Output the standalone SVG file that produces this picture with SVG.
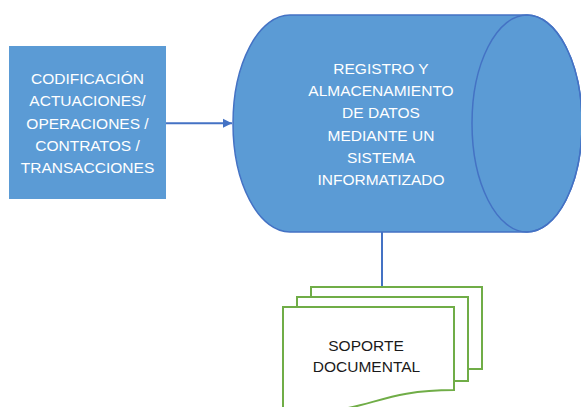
<svg xmlns="http://www.w3.org/2000/svg" width="581" height="407" viewBox="0 0 581 407">
  <defs>
    <style>
      .lbl { font-family: "Liberation Sans", Arial, sans-serif; font-size: 15.5px; text-anchor: middle; }
      .w { fill: #ffffff; }
      .k { fill: #1a1a1a; }
      .conn { stroke: #4472C4; stroke-width: 2; fill: none; }
      .doc { fill: #ffffff; stroke: #70AD47; stroke-width: 2; }
    </style>
    <marker id="arr" markerWidth="10" markerHeight="10" refX="9" refY="5" orient="auto" markerUnits="userSpaceOnUse">
      <path d="M0,0.5 L9,5 L0,9.5 Z" fill="#4472C4"/>
    </marker>
  </defs>
  <rect width="581" height="407" fill="#ffffff"/>

  <g id="codificacion">
    <rect x="9" y="46" width="157" height="153" fill="#5B9BD5"/>
    <text class="lbl w" x="87.5" y="84">CODIFICACIÓN</text>
    <text class="lbl w" x="87.5" y="106.3">ACTUACIONES/</text>
    <text class="lbl w" x="87.5" y="128.6">OPERACIONES /</text>
    <text class="lbl w" x="87.5" y="150.9">CONTRATOS /</text>
    <text class="lbl w" x="87.5" y="173.2">TRANSACCIONES</text>
  </g>

  <g id="registro">
    <path d="M290,15 L527,15 A55,108.5 0 0 1 527,232 L290,232 A57,108.5 0 0 1 290,15 Z" fill="#5B9BD5" stroke="#4472C4" stroke-width="1.5"/>
    <ellipse cx="527" cy="123.5" rx="55" ry="108.5" fill="none" stroke="#4472C4" stroke-width="1.5"/>
    <text class="lbl w" x="381" y="74">REGISTRO Y</text>
    <text class="lbl w" x="381" y="96.2">ALMACENAMIENTO</text>
    <text class="lbl w" x="381" y="118.4">DE DATOS</text>
    <text class="lbl w" x="381" y="140.6">MEDIANTE UN</text>
    <text class="lbl w" x="381" y="162.8">SISTEMA</text>
    <text class="lbl w" x="381" y="185">INFORMATIZADO</text>
  </g>

  <g id="connectors">
    <line class="conn" x1="166" y1="123.3" x2="232" y2="123.3" marker-end="url(#arr)"/>
    <line class="conn" x1="382" y1="232" x2="382" y2="287"/>
  </g>

  <g id="soporte">
    <path class="doc" d="M311,297 L311,287 L482,287 L482,369 L468,369"/>
    <path class="doc" d="M297,307 L297,297 L468,297 L468,381 L454,381"/>
    <path class="doc" d="M283,307 L454,307 L454,390 C369,390 369,418 283,410 Z"/>
    <text class="lbl k" x="366" y="350.5">SOPORTE</text>
    <text class="lbl k" x="366.5" y="371.5">DOCUMENTAL</text>
  </g>
</svg>
